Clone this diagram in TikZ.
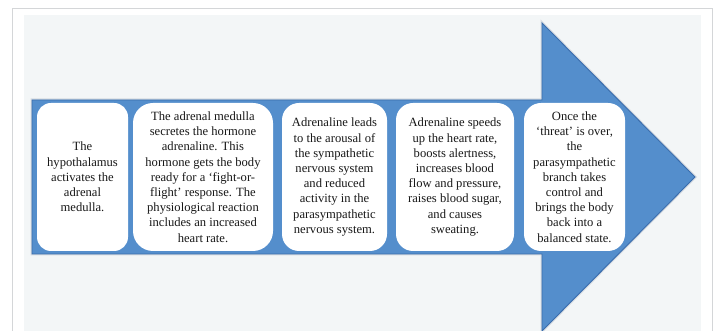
\documentclass[tikz,border=0pt]{standalone}
\usepackage{fontspec}
\setmainfont{Liberation Serif}
\definecolor{panel}{RGB}{243,246,247}
\definecolor{frameline}{RGB}{212,214,216}
\definecolor{arrowblue}{RGB}{84,142,204}
\definecolor{arrowrim}{RGB}{58,108,172}
\definecolor{arrowglow}{RGB}{214,220,226}
\definecolor{ink}{RGB}{24,24,24}
\tikzset{
  stagebox/.style={fill=white, rounded corners=17pt, inner sep=0pt,
    minimum height=148pt, align=center, text=ink,
    font=\fontsize{12.6}{15.2}\selectfont},
  arrowshape/.style={line join=miter},
}
\begin{document}
\begin{tikzpicture}[x=1pt,y=1pt]
\useasboundingbox (0,0) rectangle (717,331);
\fill[white] (0,0) rectangle (717,331);
% outer frame and panel
\draw[frameline, line width=1pt] (12.5,0) -- (12.5,322) -- (712,322) -- (712,0);
\fill[panel] (24,0) rectangle (701,316);
% block arrow with a soft rim
\def\arrowpath{(32,231) -- (542,231) -- (542,308) -- (695,154) -- (542,0) -- (542,77) -- (32,77) -- cycle}
\draw[arrowshape, arrowglow, line width=3pt] \arrowpath;
\fill[arrowblue] \arrowpath;
\draw[arrowshape, arrowrim, line width=0.9pt] \arrowpath;
% stages
\node[stagebox, rounded corners=14pt, minimum width=91pt] (b1) at (82.5,154)
  {The\\hypothalamus\\activates the\\adrenal\\medulla.};
\node[stagebox, rounded corners=20pt, minimum width=140pt] (b2) at (203,154)
  {The adrenal medulla\\secretes the hormone\\adrenaline. This\\hormone gets the body\\ready for a ‘fight-or-\\flight’ response. The\\physiological reaction\\includes an increased\\heart rate.};
\node[stagebox, minimum width=105pt] (b3) at (334.5,154)
  {Adrenaline leads\\to the arousal of\\the sympathetic\\nervous system\\and reduced\\activity in the\\parasympathetic\\nervous system.};
\node[stagebox, minimum width=118pt] (b4) at (455,154)
  {Adrenaline speeds\\up the heart rate,\\boosts alertness,\\increases blood\\flow and pressure,\\raises blood sugar,\\and causes\\sweating.};
\node[stagebox, minimum width=101pt] (b5) at (574.5,154)
  {Once the\\‘threat’ is over,\\the\\parasympathetic\\branch takes\\control and\\brings the body\\back into a\\balanced state.};
\end{tikzpicture}
\end{document}
